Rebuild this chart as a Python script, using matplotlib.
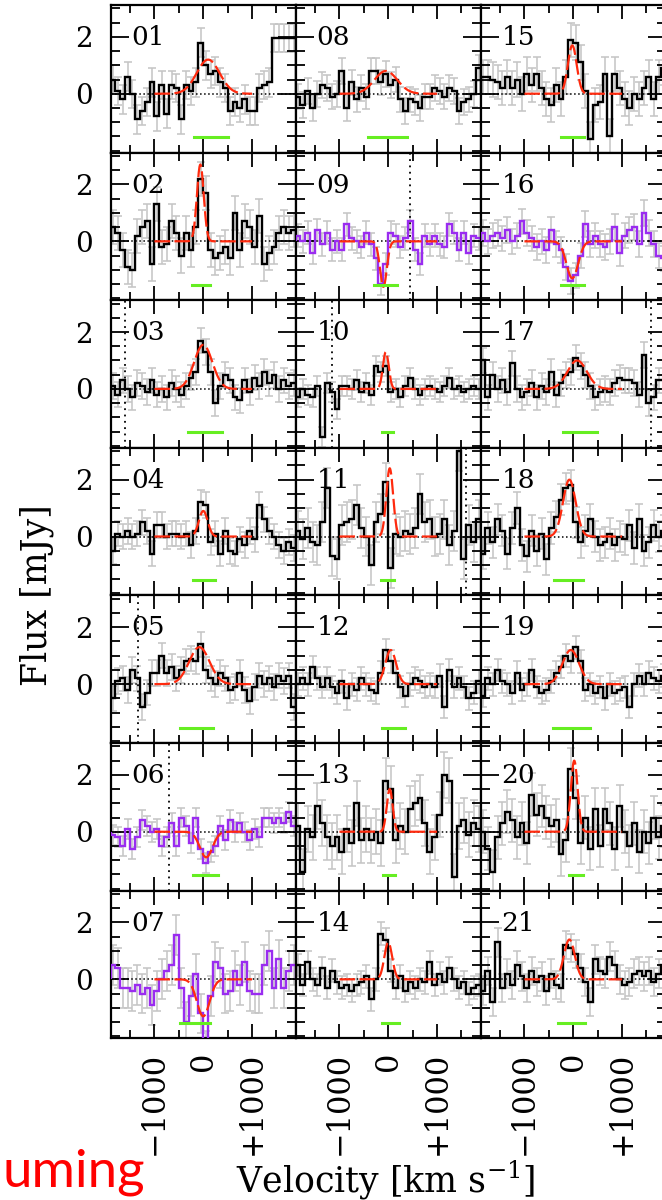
import numpy as np
import matplotlib.pyplot as plt
from matplotlib.ticker import MultipleLocator, FixedLocator

# channel edges of the velocity grid (km/s), 100 km/s channels
vel_edges = np.arange(-1900, 1901, 100)

flux_01 = [0.5, 0.1, -0.2, 0.6, 0.0, -0.9, -0.6, -0.3, 0.4, -0.8, 0.3, -0.7, 0.3, 0.2, -0.9, 0.3, 0.1, 0.4, 1.8,
           1.0, 0.7, 0.8, 0.4, 0.2, -0.6, -0.3, -0.5, -0.2, -0.6, -0.6, 0.2, 0.3, 0.4, 1.95, 1.95, 1.95, 1.95, 1.95]
flux_02 = [0.5, 0.3, -0.3, -0.9, -1.0, 0.2, 0.5, 0.7, -0.8, 1.3, -0.2, -0.1, 0.7, 0.3, -0.5, 0.3, -0.3, 0.5, 2.2,
           1.7, -0.3, -0.6, -0.4, -0.2, -0.6, 1.0, -0.3, 0.7, 0.5, -0.2, 0.9, -0.8, -0.4, -0.2, 0.3, 0.5, 0.3, 0.4]
flux_03 = [0.1, -0.2, 0.3, 0.0, -0.3, 0.2, 0.1, -0.1, 0.3, -0.2, 0.0, -0.3, 0.2, 0.0, -0.2, 0.1, 0.4, 0.6, 1.7,
           1.3, 0.6, -0.5, 0.1, 0.5, 0.3, -0.3, -0.4, 0.3, -0.1, 0.4, 0.1, 0.6, 0.2, 0.5, 0.0, 0.3, 0.1, 0.2]
flux_04 = [-0.5, 0.1, 0.0, 0.2, 0.0, 0.1, 0.5, 0.2, -0.6, 0.4, 0.4, 0.0, 0.1, 0.1, 0.0, 0.1, -0.3, 0.2, 1.2,
           1.1, -0.2, 0.1, -0.6, 0.2, -0.5, -0.6, -0.1, -0.3, 0.2, -0.1, 1.1, 0.6, 0.2, 0.0, -0.3, -0.5, -0.2, -0.4]
flux_05 = [-0.5, 0.1, 0.2, -0.2, 0.5, 0.2, -0.8, -0.3, 0.4, 0.4, 1.0, 0.4, 0.6, 0.2, 0.5, 0.8, 0.9, 0.8, 1.4,
           0.5, 0.2, 0.0, 0.4, 0.2, -0.2, -0.1, 0.4, -0.2, -0.6, -0.1, 0.3, 0.0, 0.2, -0.1, 0.3, 0.1, 0.3, -0.8]
flux_06 = [-0.1, -0.2, -0.5, 0.1, -0.6, -0.2, 0.4, 0.2, 0.0, 0.1, -0.5, -0.2, 0.3, -0.5, 0.5, 0.2, -0.4, 0.5, -0.6,
           -1.1, -0.7, -0.5, 0.2, -0.3, 0.4, 0.0, 0.3, 0.0, -0.3, 0.1, -0.2, 0.5, 0.5, 0.3, 0.5, 0.3, 0.7, 0.2]
flux_07 = [0.5, 0.4, -0.3, -0.3, -0.4, -0.2, -0.5, -0.3, -0.9, -0.4, 0.0, 0.3, 0.5, 1.55, -0.3, -1.5, -0.6, 0.2, -1.2,
           -2.5, -0.6, 0.6, 0.4, -0.5, -0.4, 0.3, -0.2, 0.6, -0.4, -0.5, -0.5, 0.5, 1.0, -0.3, 0.7, -0.3, 0.3, 0.5]
flux_08 = [-0.1, -0.4, 0.1, -0.5, 0.0, 0.3, 0.2, -0.1, 0.0, 0.8, -0.5, 0.4, -0.2, 0.2, -0.1, 0.8, 0.8, 0.4, 0.7,
           0.3, 0.5, -0.2, -0.6, -0.2, -0.3, -0.5, -0.1, -0.1, 0.2, 0.1, -0.1, 0.2, 0.1, -0.6, -0.3, -0.2, 0.0, 0.9]
flux_09 = [0.2, 0.0, 0.3, -0.4, 0.4, -0.1, 0.3, -0.3, 0.0, -0.3, 0.6, 0.1, 0.0, -0.2, 0.3, -0.1, -0.6, -1.5, -0.8,
           0.3, 0.2, -0.2, 0.1, 0.7, -0.3, -0.8, 0.2, -0.1, 0.2, -0.1, -0.2, 0.6, 0.3, -0.3, 0.3, -0.4, 0.2, 0.1]
flux_10 = [-0.3, 0.0, -0.2, -0.3, 0.1, -1.7, 0.2, -0.1, -0.7, 0.1, 0.1, 0.0, 0.3, -0.1, 0.2, -0.2, 0.8, 0.6, 0.8,
           -0.1, 0.0, -0.3, 0.1, 0.4, 0.0, -0.2, 0.0, 0.1, 0.0, -0.1, 0.1, 0.4, 0.0, 0.1, -0.1, 0.0, 0.1, 0.0]
flux_11 = [0.2, -0.1, 0.3, -0.2, -0.3, 0.5, 1.7, -0.7, -0.8, 0.4, 0.5, 0.6, 1.1, 0.3, 0.0, -1.0, 0.5, 0.8, 1.9,
           -1.1, 0.1, 0.0, 0.2, 0.1, 0.3, 1.5, 0.5, 0.6, 0.0, 0.1, 0.6, -0.3, 0.2, 3.0, -0.8, 0.4, -0.2, 0.6]
flux_12 = [0.0, 0.2, 0.0, 0.6, 0.2, -0.1, 0.2, -0.1, -0.3, 0.1, -0.5, 0.0, -0.2, 0.2, 0.0, -0.2, -0.3, 0.4, 1.2,
           0.8, 0.4, -0.1, -0.4, 0.0, 0.2, 0.1, -0.1, 0.0, -0.1, 0.3, -0.8, 0.5, -0.1, 0.2, -0.1, -0.5, -0.3, 0.1]
flux_13 = [0.2, -1.4, 0.1, -0.2, 0.9, 0.3, -0.2, -0.5, -0.2, -0.7, 0.1, -0.4, 1.0, -0.3, 0.1, -0.3, 0.0, -0.4, 1.8,
           1.5, -0.3, 0.2, 0.0, 0.8, 1.0, 1.2, 0.3, -0.7, -0.2, 0.6, 2.0, 1.8, -1.6, 0.2, 0.4, -0.1, 0.3, 0.1]
flux_14 = [0.5, -0.2, 0.6, 0.0, -0.2, 0.4, -0.3, 0.3, -0.1, -0.3, -0.2, -0.4, -0.2, -0.1, 0.1, -0.7, 0.0, 1.6, 1.4,
           0.3, -0.3, 0.1, -0.4, -0.1, -0.3, 0.0, -0.1, 0.6, -0.2, 0.2, -0.1, 0.4, 0.0, -0.3, -0.1, -0.5, -0.3, -0.2]
flux_15 = [0.6, 0.6, 0.5, 0.4, 0.2, 0.6, 0.2, 0.5, 0.0, 0.7, 0.3, 0.7, 0.2, -0.2, -0.4, 0.3, -0.2, 0.6, 1.9,
           1.8, 1.1, 0.1, -1.6, -0.4, -0.3, 0.7, -1.5, 0.7, 0.2, -0.2, -0.5, 0.0, -0.2, 0.2, 0.6, -0.2, 0.6, 0.9]
flux_16 = [0.3, 0.0, 0.2, 0.3, 0.1, 0.4, 0.0, 0.2, 0.7, 0.3, 0.1, -0.2, 0.0, -0.3, 0.4, -0.1, -0.3, -0.9, -1.4,
           -1.2, -0.5, 0.6, -0.1, 0.2, -0.1, -0.2, 0.0, 0.5, -0.4, 0.2, 0.4, 0.5, -0.1, 1.0, 0.3, -0.1, -0.5, -0.6]
flux_17 = [1.0, -0.3, 0.5, 0.0, 0.3, -0.1, 0.9, 0.0, -0.3, -0.1, 0.2, -0.3, 0.1, -0.1, 0.6, -0.2, 0.2, 0.5, 0.6,
           1.1, 0.8, 0.5, 0.1, -0.3, -0.1, 0.0, -0.1, 0.2, 0.4, 0.3, 0.3, 0.2, -0.2, 1.2, -0.5, -0.3, 0.3, 0.3]
flux_18 = [-0.6, 0.3, -0.2, 0.6, 0.2, -0.6, 0.3, 1.0, -0.3, -0.7, 0.2, -0.5, 0.1, -0.8, 0.3, 0.7, 1.3, 1.7, 1.8,
           0.5, -0.2, 0.2, 0.6, 0.0, -0.3, -0.2, 0.1, -0.3, 0.0, -0.1, 0.4, -0.4, 0.6, -0.5, -0.2, 0.4, 0.0, 0.2]
flux_19 = [-0.4, 0.2, 0.0, 0.5, 0.1, 0.0, -0.3, 0.4, -0.2, 0.0, 0.5, -0.1, -0.3, -0.2, 0.1, 0.4, 0.6, 1.0, 0.8,
           1.3, 0.8, -0.2, 0.0, -0.3, -0.1, -0.5, 0.0, -0.3, -0.2, -0.1, -0.8, 0.0, 0.3, 0.0, 0.4, 0.2, 0.1, 0.3]
flux_20 = [0.0, -0.6, -1.4, -0.2, 0.3, 0.7, 0.4, -0.2, 0.3, -0.4, 1.3, 0.6, 0.9, 0.5, 0.2, 0.4, -0.8, -0.3, 2.2,
           1.2, -0.4, 0.5, -0.6, 0.8, -0.5, 0.8, 0.3, -0.6, 0.9, 0.0, -0.5, 0.3, -0.7, 0.0, -0.4, 0.5, -0.2, 0.2]
flux_21 = [-0.4, 0.3, -0.8, 1.3, -0.3, 0.2, -0.2, 0.5, 0.1, -0.3, 0.3, -0.1, 0.1, -0.4, 0.2, -0.2, -0.3, 1.2, 1.1,
           0.9, 0.4, -0.1, -0.8, 0.7, 0.3, 0.2, 0.8, 0.5, 0.0, -0.2, -0.1, 0.2, 0.3, 0.1, 0.3, -0.1, 0.2, 0.5]

spectra = [flux_01, flux_02, flux_03, flux_04, flux_05, flux_06, flux_07,
           flux_08, flux_09, flux_10, flux_11, flux_12, flux_13, flux_14,
           flux_15, flux_16, flux_17, flux_18, flux_19, flux_20, flux_21]

# typical per-channel uncertainty of each spectrum (mJy)
flux_err = [0.5, 0.6, 0.45, 0.45, 0.45, 0.35, 0.7,
            0.45, 0.4, 0.35, 0.7, 0.4, 0.8, 0.4,
            0.6, 0.45, 0.45, 0.55, 0.4, 0.75, 0.5]

# gaussian fits: peak (mJy), centre and sigma (km/s)
fit_amp = [1.2, 2.7, 1.55, 0.9, 1.3, -0.9, -1.3,
           0.8, -1.6, 1.3, 2.4, 1.2, 1.5, 1.3,
           1.7, -1.3, 1.0, 2.0, 1.2, 2.5, 1.4]
fit_center = [100, -60, 0, 0, -80, 60, 0,
              -50, -100, -50, 30, 50, 30, 0,
              -20, -20, 80, -80, -50, 20, -80]
fit_sigma = [235, 70, 187, 90, 210, 130, 130,
             235, 70, 60, 70, 110, 60, 80,
             90, 120, 200, 130, 170, 70, 110]

# line-width bars (km/s)
bar_center = [160, -50, 35, 20, -140, 55, -170,
              -10, -60, -15, -10, 115, 15, 55,
              -20, -20, 135, -105, -35, 55, -35]
bar_width = [690, 380, 690, 440, 690, 510, 620,
             790, 480, 210, 275, 470, 265, 350,
             480, 480, 690, 590, 755, 270, 550]

absorption = ["06", "07", "09", "16"]
marker_vel = {"03": -1600, "05": -1330, "06": -700, "09": 455,
              "10": -1150, "11": 1590, "17": 1590}

plt.rcParams['font.family'] = 'DejaVu Serif'
plt.rcParams['mathtext.fontset'] = 'dejavuserif'

W, H = 662, 1200
fig = plt.figure(figsize=(W / 100, H / 100), dpi=100)

left0, colw = 111, 185
top0, rowh = 5, 147.6
centers = 0.5 * (vel_edges[:-1] + vel_edges[1:])

for idx, flux in enumerate(spectra):
    col, row = idx // 7, idx % 7
    name = "%02d" % (idx + 1)
    ax = fig.add_axes([(left0 + col * colw) / W, 1 - (top0 + (row + 1) * rowh) / H,
                       colw / W, rowh / H])
    flux = np.array(flux)

    ax.errorbar(centers, flux, yerr=flux_err[idx], fmt='none', ecolor='#c4c4c4',
                elinewidth=1.1, capsize=3, capthick=1.1, zorder=1)
    ax.axhline(0, color='k', ls=':', lw=1.1, zorder=2)
    line_col = '#9a2cf0' if name in absorption else 'black'
    ax.stairs(flux, vel_edges, color=line_col, lw=1.7, zorder=3)

    vfit = np.linspace(-1000, 1000, 400)
    gfit = fit_amp[idx] * np.exp(-0.5 * ((vfit - fit_center[idx]) / fit_sigma[idx]) ** 2)
    ax.plot(vfit, gfit, color='#ff2a0e', lw=1.6, ls=(0, (7, 2)), zorder=4)

    b0 = bar_center[idx] - bar_width[idx] / 2
    ax.plot([b0, b0 + bar_width[idx]], [-1.53, -1.53], color='#66ee22', lw=2.2, zorder=4)

    if name in marker_vel:
        ax.axvline(marker_vel[name], color='k', ls=(0, (1, 2.5)), lw=1.3, zorder=2)

    ax.text(0.11, 0.78, name, transform=ax.transAxes, fontsize=19, va='center', ha='left')

    ax.set_xlim(-1890, 1900)
    ax.set_ylim(-2.07, 3.12)
    ax.xaxis.set_major_locator(FixedLocator([-1000, 0, 1000]))
    ax.xaxis.set_minor_locator(FixedLocator([-1500, -500, 500, 1500]))
    ax.yaxis.set_major_locator(FixedLocator([0, 2]))
    ax.yaxis.set_minor_locator(MultipleLocator(0.5))
    ax.tick_params(which='both', direction='in', top=True, right=True, width=1.3)
    ax.tick_params(axis='x', which='major', length=10)
    ax.tick_params(axis='x', which='minor', length=6)
    ax.tick_params(axis='y', which='major', length=13)
    ax.tick_params(axis='y', which='minor', length=6.5)
    for sp in ax.spines.values():
        sp.set_linewidth(1.6)

    if col == 0:
        ax.set_yticklabels(['0', '2'], fontsize=20)
        ax.tick_params(axis='y', pad=13)
    else:
        ax.set_yticklabels([])
    if row == 6:
        ax.set_xticklabels(['\u22121000', '0', '+1000'], rotation=90, fontsize=22, va='top')
        ax.tick_params(axis='x', pad=10)
    else:
        ax.set_xticklabels([])

fig.text(37 / W, 1 - 595 / H, 'Flux [mJy]', rotation=90, ha='center', va='center', fontsize=25)
fig.text(386 / W, 1 - 1180 / H, 'Velocity [km s$^{-1}$]', ha='center', va='center', fontsize=25)
fig.text(2 / W, 1 - 1187 / H, 'uming', ha='left', va='baseline', fontsize=38,
         color='#ff0000', family='Lato')

fig.savefig('out.png', dpi=100)
